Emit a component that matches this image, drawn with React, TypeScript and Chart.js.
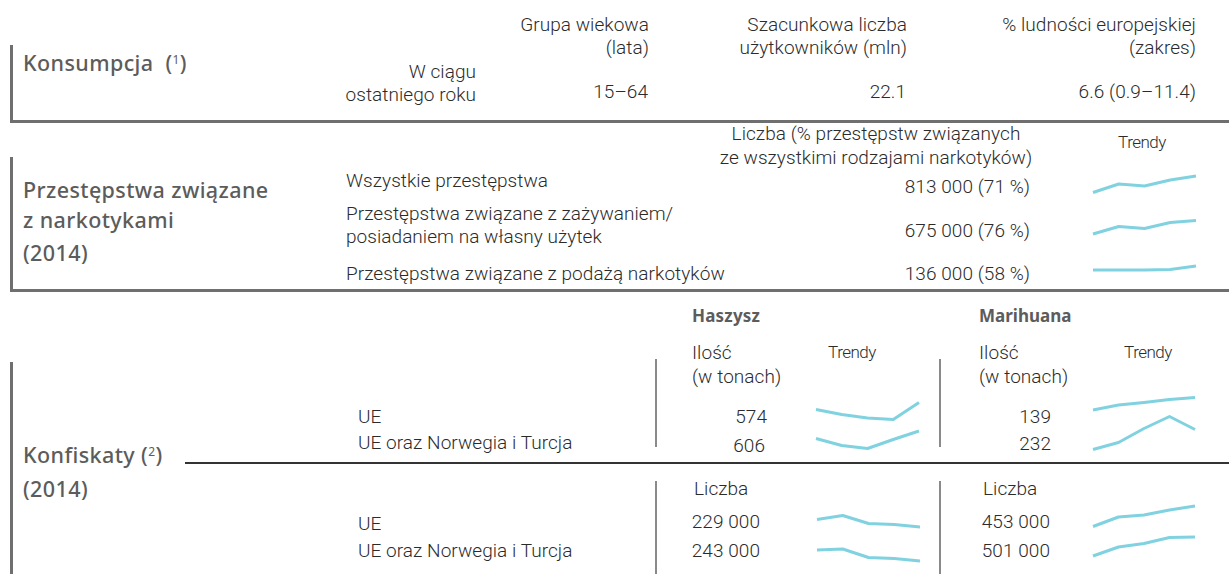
import React, { useEffect, useRef } from "react";
import { Chart, registerables } from "chart.js";

Chart.register(...registerables);

// ---------- DATA ----------
const years = ["2010", "2011", "2012", "2013", "2014"];

// Konsumpcja
const consumptionPeriod = ["W ciągu", "ostatniego roku"];
const consumptionHeaders = [
  ["Grupa wiekowa", "(lata)"],
  ["Szacunkowa liczba", "użytkowników (mln)"],
  ["% ludności europejskiej", "(zakres)"],
];
const consumptionValues = ["15–64", "22.1", "6.6 (0.9–11.4)"];

// Przestępstwa związane z narkotykami
const offenceHeader = ["Liczba (% przestępstw związanych", "ze wszystkimi rodzajami narkotyków)"];
const offenceLabels = [
  ["Wszystkie przestępstwa"],
  ["Przestępstwa związane z zażywaniem/", "posiadaniem na własny użytek"],
  ["Przestępstwa związane z podażą narkotyków"],
];
const offenceValues = ["813 000 (71 %)", "675 000 (76 %)", "136 000 (58 %)"];
// trend index (0–100) read from sparklines
const offenceTrendAll = [15, 32, 28, 40, 48];
const offenceTrendUse = [12, 27, 23, 35, 39];
const offenceTrendSupply = [20, 20, 20, 21, 28];

// Konfiskaty
const seizureRegions = ["UE", "UE oraz Norwegia i Turcja"];
const hashQuantity = ["574", "606"];
const herbQuantity = ["139", "232"];
const hashCount = ["229 000", "243 000"];
const herbCount = ["453 000", "501 000"];
const hashQtyTrendEU = [41, 31, 24, 21, 55];
const hashQtyTrendEUNT = [43, 29, 23, 41, 58];
const herbQtyTrendEU = [40, 50, 55, 61, 65];
const herbQtyTrendEUNT = [21, 35, 63, 87, 61];
const hashCntTrendEU = [41, 49, 33, 31, 26];
const hashCntTrendEUNT = [40, 42, 25, 23, 18];
const herbCntTrendEU = [27, 46, 50, 60, 68];
const herbCntTrendEUNT = [28, 46, 53, 65, 66];

// ---------- STYLE ----------
const FONT = "Roboto, 'Noto Sans', sans-serif";
const HFONT = "'Noto Sans', Roboto, sans-serif";
const BODY = "#2b2b2b";
const HEAD = "#5c5c5c";
const RULE = "#6f6f6f";
const SPARK = "#80d2e0";
const W = 1229;

type TP = {
  x: number;
  cy: number;
  children: React.ReactNode;
  align?: "left" | "right" | "center";
  size?: number;
  weight?: number;
  color?: string;
  ls?: number;
  head?: boolean;
};

function T({ x, cy, children, align = "left", size = 19, weight = 300, color = BODY, ls = 0.05, head = false }: TP) {
  const off = head ? 0.53 : 0.49;
  const style: React.CSSProperties = {
    position: "absolute",
    top: cy - size * off,
    fontSize: size,
    lineHeight: `${size}px`,
    fontWeight: weight,
    color,
    fontFamily: head ? HFONT : FONT,
    whiteSpace: "nowrap",
    letterSpacing: ls,
  };
  if (align === "left") style.left = x;
  else if (align === "right") style.right = W - x;
  else {
    style.left = x - 300;
    style.width = 600;
    style.textAlign = "center";
  }
  return <div style={style}>{children}</div>;
}

function H(props: TP) {
  return <T size={21.5} weight={500} color={HEAD} ls={0.4} head {...props} />;
}

function Rule({ x, y, w, h, color = RULE }: { x: number; y: number; w: number; h: number; color?: string }) {
  return <div style={{ position: "absolute", left: x, top: y, width: w, height: h, background: color }} />;
}

function Spark({ data, x0, x1, yB }: { data: number[]; x0: number; x1: number; yB: number }) {
  const ref = useRef<HTMLCanvasElement>(null);
  const pad = 4;
  const areaH = 50;
  useEffect(() => {
    if (!ref.current) return;
    const chart = new Chart(ref.current, {
      type: "line",
      data: {
        labels: years,
        datasets: [
          {
            data,
            borderColor: SPARK,
            borderWidth: 3,
            pointRadius: 0,
            tension: 0,
            fill: false,
            clip: false as any,
            borderJoinStyle: "round",
          },
        ],
      },
      options: {
        responsive: false,
        maintainAspectRatio: false,
        animation: false,
        events: [],
        layout: { padding: pad },
        plugins: { legend: { display: false }, tooltip: { enabled: false } },
        scales: {
          x: { display: false, offset: false },
          y: { display: false, min: 0, max: 100 },
        },
      },
    });
    return () => chart.destroy();
  }, [data]);
  const w = Math.round(x1 - x0 + pad * 2);
  const h = areaH + pad * 2;
  return (
    <canvas
      ref={ref}
      width={w}
      height={h}
      style={{ position: "absolute", left: x0 - pad, top: yB - areaH - pad, width: w, height: h }}
    />
  );
}

const supStyle: React.CSSProperties = { fontSize: 12, verticalAlign: "7px", fontWeight: 400 };

export default function App() {
  return (
    <div
      style={{
        position: "absolute",
        left: 0,
        top: 0,
        width: W,
        height: 574,
        overflow: "hidden",
        background: "#fff",
        fontFamily: FONT,
      }}
    >
      {/* ===== Konsumpcja ===== */}
      <Rule x={10} y={45} w={3} h={78} />
      <Rule x={10} y={120} w={W - 10} h={3} />
      <H x={23} cy={60}>
        Konsumpcja&nbsp;&nbsp;(<sup style={supStyle}>1</sup>)
      </H>
      <T x={476} cy={71} align="right">{consumptionPeriod[0]}</T>
      <T x={476} cy={94} align="right">{consumptionPeriod[1]}</T>
      <T x={649} cy={24} align="right">{consumptionHeaders[0][0]}</T>
      <T x={649} cy={47} align="right">{consumptionHeaders[0][1]}</T>
      <T x={648} cy={91} align="right">{consumptionValues[0]}</T>
      <T x={907} cy={24} align="right">{consumptionHeaders[1][0]}</T>
      <T x={907} cy={47} align="right">{consumptionHeaders[1][1]}</T>
      <T x={906} cy={91} align="right">{consumptionValues[1]}</T>
      <T x={1196} cy={24} align="right">{consumptionHeaders[2][0]}</T>
      <T x={1196} cy={47} align="right">{consumptionHeaders[2][1]}</T>
      <T x={1196} cy={91} align="right">{consumptionValues[2]}</T>

      {/* ===== Przestępstwa ===== */}
      <Rule x={10} y={157} w={3} h={135} />
      <Rule x={10} y={289} w={W - 10} h={3} />
      <H x={23} cy={190}>Przestępstwa związane</H>
      <H x={23} cy={220}>z narkotykami</H>
      <H x={23} cy={253}>(2014)</H>
      <T x={876} cy={133} align="center">{offenceHeader[0]}</T>
      <T x={876} cy={157} align="center">{offenceHeader[1]}</T>
      <T x={1142} cy={142} align="center" size={17} ls={-0.5}>Trendy</T>
      <T x={346} cy={180}>{offenceLabels[0][0]}</T>
      <T x={346} cy={213}>{offenceLabels[1][0]}</T>
      <T x={346} cy={236}>{offenceLabels[1][1]}</T>
      <T x={346} cy={273}>{offenceLabels[2][0]}</T>
      <T x={1030} cy={186} align="right">{offenceValues[0]}</T>
      <T x={1030} cy={230} align="right">{offenceValues[1]}</T>
      <T x={1030} cy={273} align="right">{offenceValues[2]}</T>
      <Spark data={offenceTrendAll} x0={1093} x1={1195.5} yB={200} />
      <Spark data={offenceTrendUse} x0={1093} x1={1195.5} yB={240} />
      <Spark data={offenceTrendSupply} x0={1093} x1={1195.5} yB={280} />

      {/* ===== Konfiskaty ===== */}
      <Rule x={10} y={362} w={3} h={212} />
      <Rule x={185} y={462} w={W - 185} h={1.5} color="#333" />
      <H x={23} cy={452}>
        Konfiskaty (<sup style={supStyle}>2</sup>)
      </H>
      <H x={23} cy={489}>(2014)</H>

      <H x={692} cy={316} size={17} weight={700} ls={0.2}>Haszysz</H>
      <H x={979} cy={316} size={17} weight={700} ls={0}>Marihuana</H>

      <Rule x={655} y={359} w={2} h={88} color="#8a8a8a" />
      <Rule x={939} y={359} w={2} h={88} color="#8a8a8a" />
      <Rule x={655} y={481} w={2} h={93} color="#8a8a8a" />
      <Rule x={939} y={481} w={2} h={93} color="#8a8a8a" />

      <T x={692} cy={352}>Ilość</T>
      <T x={692} cy={376}>(w tonach)</T>
      <T x={852} cy={352} align="center" size={17} ls={-0.5}>Trendy</T>
      <T x={979} cy={352}>Ilość</T>
      <T x={979} cy={376}>(w tonach)</T>
      <T x={1148} cy={352} align="center" size={17} ls={-0.5}>Trendy</T>

      <T x={358} cy={416}>{seizureRegions[0]}</T>
      <T x={358} cy={442}>{seizureRegions[1]}</T>
      <T x={767} cy={416} align="right">{hashQuantity[0]}</T>
      <T x={765} cy={445} align="right">{hashQuantity[1]}</T>
      <T x={1051} cy={416} align="right">{herbQuantity[0]}</T>
      <T x={1051} cy={443} align="right">{herbQuantity[1]}</T>
      <Spark data={hashQtyTrendEU} x0={816} x1={919} yB={430} />
      <Spark data={hashQtyTrendEUNT} x0={816} x1={919} yB={460} />
      <Spark data={herbQtyTrendEU} x0={1093} x1={1195} yB={430} />
      <Spark data={herbQtyTrendEUNT} x0={1093} x1={1195} yB={460} />

      <T x={694} cy={488}>Liczba</T>
      <T x={983} cy={488}>Liczba</T>
      <T x={358} cy={523}>{seizureRegions[0]}</T>
      <T x={358} cy={550}>{seizureRegions[1]}</T>
      <T x={760} cy={521} align="right">{hashCount[0]}</T>
      <T x={760} cy={550} align="right">{hashCount[1]}</T>
      <T x={1050} cy={521} align="right">{herbCount[0]}</T>
      <T x={1050} cy={550} align="right">{herbCount[1]}</T>
      <Spark data={hashCntTrendEU} x0={817} x1={920} yB={540} />
      <Spark data={hashCntTrendEUNT} x0={817} x1={920} yB={570} />
      <Spark data={herbCntTrendEU} x0={1093} x1={1195} yB={540} />
      <Spark data={herbCntTrendEUNT} x0={1093} x1={1195} yB={570} />
    </div>
  );
}
